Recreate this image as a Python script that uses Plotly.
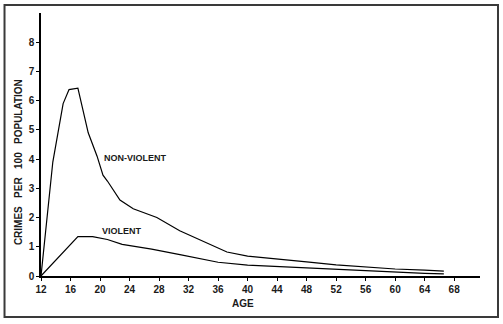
import plotly.graph_objects as go

# Age-specific crime rates (crimes per 100 population)
nonviolent_age = [12, 13.6, 15, 15.8, 17, 18.4, 19.6, 20.4, 21, 22.7, 24.5, 27.7,
                  30.8, 33.6, 37.2, 40, 44.4, 48, 52, 56, 60, 64, 66.6]
nonviolent_rate = [0.0, 3.9, 5.9, 6.38, 6.43, 4.9, 4.1, 3.45, 3.25, 2.6, 2.3, 2.0,
                   1.55, 1.23, 0.82, 0.68, 0.56, 0.48, 0.38, 0.31, 0.24, 0.2, 0.17]

violent_age = [12, 17, 19, 21, 23, 27, 31, 34, 36, 40, 44, 48, 52, 56, 60, 64, 66.6]
violent_rate = [0.0, 1.35, 1.35, 1.25, 1.08, 0.92, 0.72, 0.57, 0.47, 0.37, 0.32,
                0.27, 0.22, 0.17, 0.13, 0.09, 0.07]

x_ticks = [12, 16, 20, 24, 28, 32, 36, 40, 44, 48, 52, 56, 60, 64, 68]
y_ticks = [0, 1, 2, 3, 4, 5, 6, 7, 8]

FONT = "Liberation Sans"
INK = "#1a1a1a"

fig = go.Figure()
fig.add_trace(go.Scatter(x=nonviolent_age, y=nonviolent_rate, mode="lines",
                         line=dict(color="black", width=1.2), name="NON-VIOLENT"))
fig.add_trace(go.Scatter(x=violent_age, y=violent_rate, mode="lines",
                         line=dict(color="black", width=1.2), name="VIOLENT"))

fig.update_layout(
    width=503, height=324,
    margin=dict(l=41, r=23, t=13, b=48),
    paper_bgcolor="white", plot_bgcolor="white",
    showlegend=False,
    font=dict(family=FONT, size=10, color=INK, weight="bold"),
)

fig.update_xaxes(
    range=[12, 71.5], tickvals=x_ticks, ticktext=[str(v) for v in x_ticks],
    showgrid=False, zeroline=False, showline=True, linecolor="black", linewidth=1.5,
    ticks="outside", ticklen=3, tickwidth=1.2, tickcolor="black",
    tickfont=dict(family=FONT, size=10, color=INK, weight="bold"),
)
fig.update_yaxes(
    range=[0, 9], tickvals=y_ticks, ticktext=[str(v) for v in y_ticks],
    showgrid=False, zeroline=False, showline=True, linecolor="black", linewidth=1.5,
    ticks="outside", ticklen=3, tickwidth=1.2, tickcolor="black",
    tickfont=dict(family=FONT, size=10, color=INK, weight="bold"),
)

# Axis titles
sp = "\u00a0\u00a0\u00a0"
fig.add_annotation(xref="paper", yref="paper", x=-0.0524, y=0.433,
                   xanchor="center", yanchor="middle",
                   text=f"CRIMES{sp}PER{sp}100{sp}POPULATION", textangle=-90,
                   showarrow=False, font=dict(family=FONT, size=10, color=INK, weight="bold"))
fig.add_annotation(xref="paper", yref="paper", x=0.46, y=-0.1027,
                   xanchor="center", yanchor="middle",
                   text="AGE", showarrow=False,
                   font=dict(family=FONT, size=10, color=INK, weight="bold"))

# Curve labels
fig.add_annotation(x=20.3, y=4.03, text="NON-VIOLENT", xanchor="left", yanchor="middle",
                   showarrow=False, font=dict(family=FONT, size=9, color=INK))
fig.add_annotation(x=20.0, y=1.54, text="VIOLENT", xanchor="left", yanchor="middle",
                   showarrow=False, font=dict(family=FONT, size=9, color=INK))

# Frame around the whole figure
fig.add_shape(type="rect", xref="paper", yref="paper",
              x0=-0.0831, x1=1.041, y0=-0.156, y1=1.0304,
              line=dict(color="#3a3a3a", width=2), fillcolor="rgba(0,0,0,0)")

fig.write_html("out.html")
